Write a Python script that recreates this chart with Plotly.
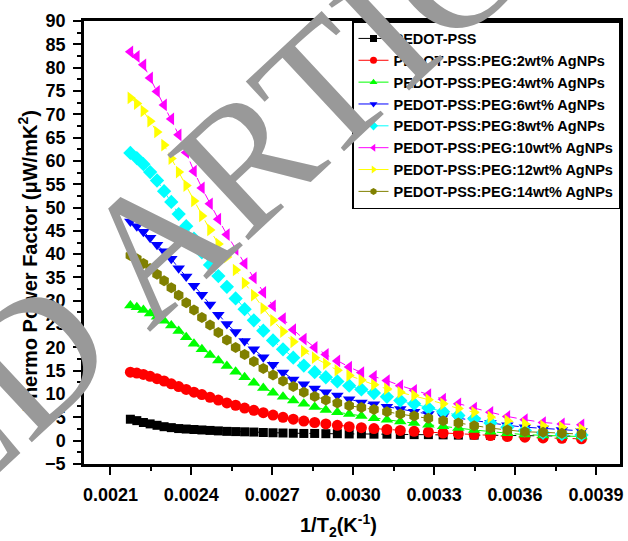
import plotly.graph_objects as go

# Temperature (K); x axis is 1/T2
T2_K = [460, 455, 450, 445, 440, 435, 430, 425, 420, 415, 410, 405, 400, 395, 390,
        385, 380, 375, 370, 365, 360, 355, 350, 345, 340, 335, 330, 325, 320, 315,
        310, 305, 300, 295, 290, 285, 280, 275, 270, 265, 260]
inv_T = [1.0 / t for t in T2_K]

names = ["PEDOT-PSS",
         "PEDOT-PSS:PEG:2wt% AgNPs",
         "PEDOT-PSS:PEG:4wt% AgNPs",
         "PEDOT-PSS:PEG:6wt% AgNPs",
         "PEDOT-PSS:PEG:8wt% AgNPs",
         "PEDOT-PSS:PEG:10wt% AgNPs",
         "PEDOT-PSS:PEG:12wt% AgNPs",
         "PEDOT-PSS:PEG:14wt% AgNPs"]

pf_0 = [4.6, 4.3, 3.9, 3.6, 3.3, 3.0, 2.8, 2.6, 2.5, 2.4, 2.3, 2.2, 2.1, 2.0, 1.95,
        1.9, 1.85, 1.75, 1.7, 1.65, 1.6, 1.55, 1.55, 1.5, 1.5, 1.45, 1.45, 1.4, 1.4, 1.35,
        1.3, 1.3, 1.25, 1.2, 1.2, 1.15, 1.1, 1.1, 1.0, 1.0, 0.95]
pf_2 = [14.7, 14.5, 14.2, 13.8, 13.3, 12.8, 12.2, 11.6, 11.0, 10.4, 9.9, 9.3, 8.7, 8.1, 7.6,
        7.0, 6.5, 6.0, 5.5, 5.0, 4.6, 4.2, 3.9, 3.6, 3.3, 3.0, 2.8, 2.6, 2.4, 2.2,
        2.0, 1.85, 1.65, 1.5, 1.3, 1.1, 0.9, 0.75, 0.6, 0.5, 0.4]
pf_4 = [29.0, 28.6, 28.0, 27.3, 26.6, 25.7, 24.7, 23.5, 22.2, 20.8, 19.6, 18.4, 17.2, 16.0, 14.8,
        13.6, 12.4, 11.3, 10.3, 9.4, 8.6, 7.9, 7.2, 6.6, 6.1, 5.7, 5.3, 4.8, 4.5, 4.1,
        3.8, 3.4, 3.1, 2.7, 2.3, 1.9, 1.6, 1.3, 1.1, 1.0, 0.9]
pf_6 = [47.0, 46.0, 44.8, 43.5, 42.0, 40.6, 39.0, 37.0, 35.2, 33.2, 31.3, 29.2, 27.0, 25.0, 23.3,
        21.4, 19.6, 17.9, 16.3, 14.6, 13.1, 12.1, 11.2, 10.4, 9.7, 8.9, 8.2, 7.8, 7.3, 6.8,
        6.2, 5.7, 5.3, 4.8, 4.4, 3.8, 3.3, 2.9, 2.6, 2.3, 2.1]
pf_8 = [61.7, 60.6, 59.3, 57.6, 55.8, 53.5, 51.2, 48.6, 46.0, 43.3, 40.4, 37.7, 35.3, 33.0, 30.5,
        28.2, 25.8, 23.6, 21.5, 19.6, 17.8, 16.1, 14.7, 13.6, 12.7, 11.8, 11.0, 10.2, 9.4, 8.6,
        7.9, 7.0, 6.2, 5.4, 4.7, 3.8, 2.9, 2.2, 1.7, 1.4, 1.2]
pf_10 = [83.4, 82.4, 80.6, 77.8, 74.9, 72.0, 69.0, 65.6, 61.8, 57.8, 54.2, 50.8, 47.5, 44.2, 41.0,
         38.0, 34.9, 31.8, 28.9, 26.2, 23.8, 21.8, 20.0, 18.5, 17.1, 15.8, 14.6, 13.8, 12.9, 11.8,
         10.8, 9.9, 8.9, 7.9, 7.0, 6.1, 5.2, 4.5, 3.9, 3.6, 3.4]
pf_12 = [73.5, 72.3, 70.7, 68.5, 66.2, 63.4, 60.5, 57.6, 54.7, 51.4, 48.2, 45.2, 42.2, 39.4, 36.6,
         33.8, 31.2, 28.4, 25.8, 23.4, 21.2, 19.2, 17.8, 16.5, 15.1, 14.0, 13.0, 12.0, 11.1, 10.4,
         9.7, 8.8, 7.9, 6.9, 6.1, 5.1, 4.3, 3.6, 3.2, 2.9, 2.5]
pf_14 = [39.7, 39.0, 38.0, 36.9, 35.7, 34.3, 32.8, 31.2, 29.6, 28.0, 26.4, 24.8, 23.2, 21.6, 20.0,
         18.5, 17.0, 15.5, 14.1, 12.8, 11.6, 10.4, 9.5, 8.7, 8.1, 7.5, 7.1, 6.7, 6.2, 5.7,
         5.3, 4.8, 4.3, 3.8, 3.2, 2.7, 2.3, 1.9, 1.8, 1.6, 1.4]

series = [pf_0, pf_2, pf_4, pf_6, pf_8, pf_10, pf_12, pf_14]
colors = ["#000000", "#FF0000", "#00FF00", "#0000FF", "#00FFFF", "#FF00FF", "#FFFF00", "#808000"]
symbols = ["square", "circle", "triangle-up", "triangle-down", "diamond",
           "triangle-left", "triangle-right", "hexagon"]
sizes = [9, 11, 11, 11, 11, 11, 11, 11]

x_ticks = [0.0021, 0.0024, 0.0027, 0.0030, 0.0033, 0.0036, 0.0039]
x_tick_text = ["0.0021", "0.0024", "0.0027", "0.0030", "0.0033", "0.0036", "0.0039"]

FONT = "Liberation Sans, Arial, sans-serif"

fig = go.Figure()
for name, ys, c, s, sz in zip(names, series, colors, symbols, sizes):
    fig.add_trace(go.Scatter(
        x=inv_T, y=ys, name=name, mode="lines+markers", showlegend=False,
        line=dict(color=c, width=1, dash="dash"),
        marker=dict(color=c, symbol=s, size=sz, line=dict(width=0)),
    ))
# legend entries with small symbols, as in the original legend
for name, c, s in zip(names, colors, symbols):
    fig.add_trace(go.Scatter(
        x=[None], y=[None], name=name, mode="lines+markers",
        line=dict(color=c, width=1),
        marker=dict(color=c, symbol=s, size=7, line=dict(width=0)),
    ))

axis_common = dict(
    showline=True, linecolor="black", linewidth=2.5, mirror=True,
    ticks="outside", ticklen=8, tickwidth=2, tickcolor="black",
    showgrid=False, zeroline=False,
    tickfont=dict(family=FONT, size=18, color="black", weight="bold"),
)

fig.update_xaxes(range=[0.002002, 0.003989], tickvals=x_ticks, ticktext=x_tick_text,
                 ticklabelstandoff=5,
                 minor=dict(ticks="outside", ticklen=4, tickwidth=2, tickcolor="black",
                            dtick=0.00015, tick0=0.00195),
                 **axis_common)
fig.update_yaxes(range=[-5, 90], tick0=-5, dtick=5, ticklabelstandoff=4,
                 minor=dict(ticks="outside", ticklen=4, tickwidth=2, tickcolor="black",
                            dtick=2.5, tick0=-5),
                 **axis_common)

fig.update_layout(
    width=628, height=541,
    margin=dict(l=84, r=5, t=21, b=77),
    plot_bgcolor="white", paper_bgcolor="white",
    showlegend=True,
    legend=dict(x=1, xanchor="right", y=1, yanchor="top",
                bgcolor="white", bordercolor="black", borderwidth=1.5,
                font=dict(family=FONT, size=14.5, color="black", weight="bold"),
                tracegroupgap=0),
    annotations=[
        dict(text="Thermo Power Factor (μW/mK<sup>2</sup>)", xref="paper", yref="paper",
             x=(27 - 84) / 539, y=(464 - 261) / 443, xanchor="center", yanchor="middle",
             textangle=-90, showarrow=False,
             font=dict(family=FONT, size=20, color="black", weight="bold")),
        dict(text="1/T<sub>2</sub>(K<sup>-1</sup>)", xref="paper", yref="paper",
             x=(340 - 84) / 539, y=(464 - 525) / 443, xanchor="center", yanchor="middle",
             showarrow=False,
             font=dict(family=FONT, size=20, color="black", weight="bold")),
        dict(text="ACCEPTED ARTICLE", xref="paper", yref="paper",
             x=(28 - 84) / 539, y=(464 - 362) / 443, xanchor="center", yanchor="middle",
             textangle=-43, showarrow=False,
             font=dict(family="Liberation Serif, Times New Roman, serif", size=180,
                       color="#999999")),
    ],
)

fig.write_html("out.html", config={"displayModeBar": False})

# remove the default page margin so the figure sits at the window's top-left corner
with open("out.html", "r", encoding="utf-8") as f:
    html = f.read()
html = html.replace("<head>", "<head><style>html,body{margin:0;padding:0;}</style>", 1)
with open("out.html", "w", encoding="utf-8") as f:
    f.write(html)
